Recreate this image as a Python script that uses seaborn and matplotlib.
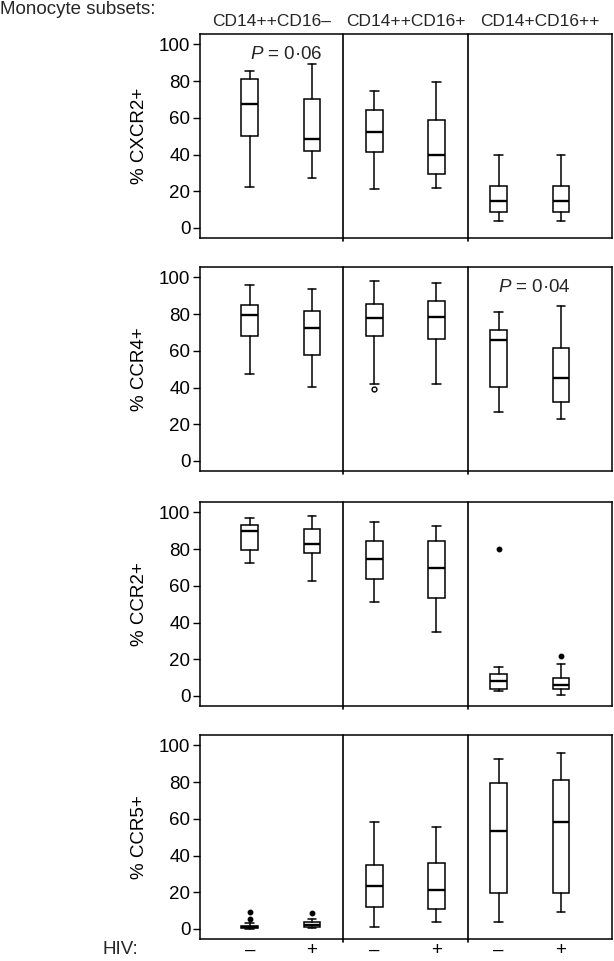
import matplotlib
matplotlib.use("Agg")
import matplotlib.pyplot as plt
import seaborn as sns

# monocyte subsets, HIV status and chemokine receptors
subsets = ["CD14++CD16–", "CD14++CD16+", "CD14+CD16++"]
hiv = ["–", "+"]
receptors = ["% CXCR2+", "% CCR4+", "% CCR2+", "% CCR5+"]

# box statistics, order: subset1 -, subset1 +, subset2 -, ...
cxcr2_lo = [22.3, 27.4, 21.0, 21.9, 3.7, 3.7]
cxcr2_q1 = [49.9, 41.7, 41.5, 29.6, 8.6, 8.6]
cxcr2_med = [67.5, 48.4, 52.5, 40.0, 14.6, 14.6]
cxcr2_q3 = [81.2, 70.2, 64.4, 58.9, 22.7, 22.7]
cxcr2_hi = [85.7, 89.4, 74.8, 79.3, 39.7, 39.7]
cxcr2_out = [[], [], [], [], [], []]

ccr4_lo = [47.4, 40.2, 42.1, 42.1, 26.4, 23.1]
ccr4_q1 = [67.9, 57.7, 67.9, 66.6, 40.4, 32.1]
ccr4_med = [79.7, 72.7, 78.0, 78.4, 66.1, 45.0]
ccr4_q3 = [84.9, 81.7, 85.4, 87.3, 71.2, 61.8]
ccr4_hi = [95.9, 93.5, 98.0, 97.2, 81.4, 84.7]
ccr4_out = [[], [], [39.1], [], [], []]

ccr2_lo = [72.4, 62.5, 51.1, 35.1, 2.5, 0.4]
ccr2_q1 = [79.8, 78.0, 63.6, 53.5, 3.6, 3.6]
ccr2_med = [90.0, 82.7, 74.5, 69.6, 8.0, 6.2]
ccr2_q3 = [93.3, 90.9, 84.4, 84.7, 12.0, 9.5]
ccr2_hi = [97.1, 98.0, 94.7, 92.7, 15.6, 17.6]
ccr2_out = [[], [], [], [], [80.0], [21.6]]

ccr5_lo = [0.2, 0.4, 1.3, 3.5, 3.5, 9.1]
ccr5_q1 = [0.7, 1.2, 11.7, 10.9, 19.6, 19.6]
ccr5_med = [1.2, 2.3, 23.5, 21.1, 53.1, 58.3]
ccr5_q3 = [1.8, 3.6, 34.6, 36.1, 79.4, 81.1]
ccr5_hi = [3.0, 5.5, 58.3, 55.4, 92.8, 96.1]
ccr5_out = [[9.2, 5.4], [8.9], [], [], [], []]

p_labels = [r"$\mathit{P}$ = 0·06", r"$\mathit{P}$ = 0·04", None, None]

panels = [
    (cxcr2_lo, cxcr2_q1, cxcr2_med, cxcr2_q3, cxcr2_hi, cxcr2_out),
    (ccr4_lo, ccr4_q1, ccr4_med, ccr4_q3, ccr4_hi, ccr4_out),
    (ccr2_lo, ccr2_q1, ccr2_med, ccr2_q3, ccr2_hi, ccr2_out),
    (ccr5_lo, ccr5_q1, ccr5_med, ccr5_q3, ccr5_hi, ccr5_out),
]

sns.set_theme(style="ticks")
plt.rcParams["font.family"] = ["Liberation Sans", "DejaVu Sans"]
plt.rcParams["mathtext.fontset"] = "custom"
plt.rcParams["mathtext.rm"] = "Liberation Sans"
plt.rcParams["mathtext.it"] = "Liberation Sans:italic"

W, H = 614, 961
fig = plt.figure(figsize=(W / 100, H / 100), dpi=100)

tops = [34, 267, 502, 735]
p_pos = [(0.59, 92), (4.57, 92)]
line_kw = dict(color="black", linewidth=1.1)

for k, (top, data) in enumerate(zip(tops, panels)):
    lo, q1, med, q3, hi, out = data
    ax = fig.add_axes([200 / W, 1 - (top + 204) / H, 412 / W, 204 / H])
    stats = []
    for i in range(6):
        stats.append(dict(whislo=lo[i], q1=q1[i], med=med[i], q3=q3[i],
                          whishi=hi[i], fliers=out[i]))
    arts = ax.bxp(stats, positions=range(6), widths=0.27, capwidths=0.14,
                  patch_artist=True,
                  boxprops=dict(facecolor="white", edgecolor="black", linewidth=1.1),
                  medianprops=dict(color="black", linewidth=1.7),
                  whiskerprops=line_kw, capprops=line_kw,
                  flierprops=dict(marker="o", markersize=3.2, markerfacecolor="black",
                                  markeredgecolor="black", linestyle="none"))
    if k == 1:
        # the single open circle in the CCR4 panel
        arts["fliers"][2].set_markerfacecolor("white")
        arts["fliers"][2].set_markersize(3.5)

    ax.set_xlim(-0.8, 5.82)
    ax.set_ylim(-5.5, 105.7)
    ax.set_yticks([0, 20, 40, 60, 80, 100])
    for s in ax.spines.values():
        s.set_color("black")
        s.set_linewidth(1.1)
    for x in [1.5, 3.5]:
        ax.axvline(x, ymin=-0.015, ymax=1.0, color="black", linewidth=1.2, clip_on=False)

    ax.tick_params(axis="y", length=5, width=1, color="black", labelsize=13.5,
                   pad=2, labelcolor="black")
    ax.set_ylabel(receptors[k], fontsize=13.5, color="black")
    ax.yaxis.set_label_coords(-0.125, 0.5)

    ax.set_xticks(range(6))
    if k == 3:
        ax.set_xticklabels(hiv * 3, fontsize=13.5, color="black")
        ax.tick_params(axis="x", length=0, pad=2)
    else:
        ax.set_xticklabels([])
        ax.tick_params(axis="x", length=0)

    if p_labels[k]:
        px, py = p_pos[k]
        ax.text(px, py, p_labels[k], ha="center", va="baseline", fontsize=13.5)

    if k == 0:
        for j, name in enumerate(subsets):
            cx = [0.35, 2.5, 4.66][j]
            ax.text(cx, 1.061, name, ha="center", va="center", fontsize=12.5,
                    transform=ax.get_xaxis_transform())

fig.text(0, 1 - 9.5 / H, "Monocyte subsets:", ha="left", va="center", fontsize=13.5)
fig.text(102 / W, 1 - 949 / H, "HIV:", ha="left", va="center", fontsize=13.5)

fig.savefig("out.png", dpi=100, facecolor="white")
